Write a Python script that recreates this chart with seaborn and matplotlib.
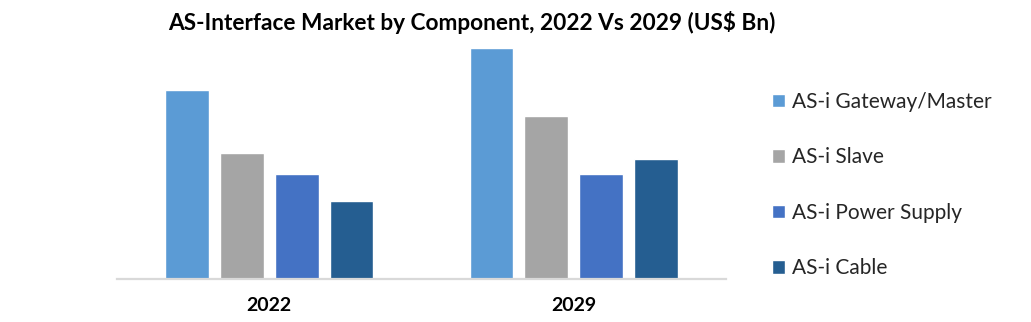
import matplotlib
matplotlib.use("Agg")
import matplotlib.pyplot as plt
import seaborn as sns
import pandas as pd

# ---- data ----
years = ["2022", "2029"]
components = ["AS-i Gateway/Master", "AS-i Slave", "AS-i Power Supply", "AS-i Cable"]
gateway_master = [1.89, 2.31]
slave = [1.26, 1.63]
power_supply = [1.05, 1.05]
cable = [0.78, 1.20]
title = "AS-Interface Market by Component, 2022 Vs 2029 (US\\$ Bn)"

colors = ["#5B9BD5", "#A5A5A5", "#4472C4", "#255E91"]

rows = []
for comp, vals in zip(components, [gateway_master, slave, power_supply, cable]):
    for y, v in zip(years, vals):
        rows.append({"Year": y, "Component": comp, "Value": v})
df = pd.DataFrame(rows)

sns.set_theme(style="white")
plt.rcParams["font.family"] = ["Lato", "DejaVu Sans"]

W, H = 1031, 322
fig = plt.figure(figsize=(W / 100, H / 100), dpi=100)
ax = fig.add_axes([117 / W, 1 - 279 / H, (726 - 117) / W, (279 - 39) / H])

sns.barplot(data=df, x="Year", y="Value", hue="Component", order=years,
            hue_order=components, palette=colors, width=0.72, gap=0.2,
            saturation=1, ax=ax, legend=True)

ax.set_xlim(-0.5, 1.5)
ax.set_ylim(0, 2.40)
ax.set_xlabel("")
ax.set_ylabel("")
ax.set_yticks([])
for s in ["top", "right", "left"]:
    ax.spines[s].set_visible(False)
ax.spines["bottom"].set_color("#D9D9D9")
ax.spines["bottom"].set_linewidth(1.6)
ax.tick_params(axis="x", length=0, pad=13)
for lab in ax.get_xticklabels():
    lab.set_fontweight("bold")
    lab.set_fontsize(14)
    lab.set_color("#000000")

handles, labels = ax.get_legend_handles_labels()
ax.get_legend().remove()
fig.legend(handles, labels, loc="center left",
           bbox_to_anchor=(764 / W, 1 - 185 / H), frameon=False,
           fontsize=15, handlelength=0.62, handleheight=0.62,
           handletextpad=0.3, labelspacing=1.7, borderaxespad=0)

fig.text(471.5 / W, 1 - 23 / H, title, ha="center", va="center",
         fontsize=16.3, fontweight="bold", color="#000000")

fig.savefig("out.png", dpi=100)
